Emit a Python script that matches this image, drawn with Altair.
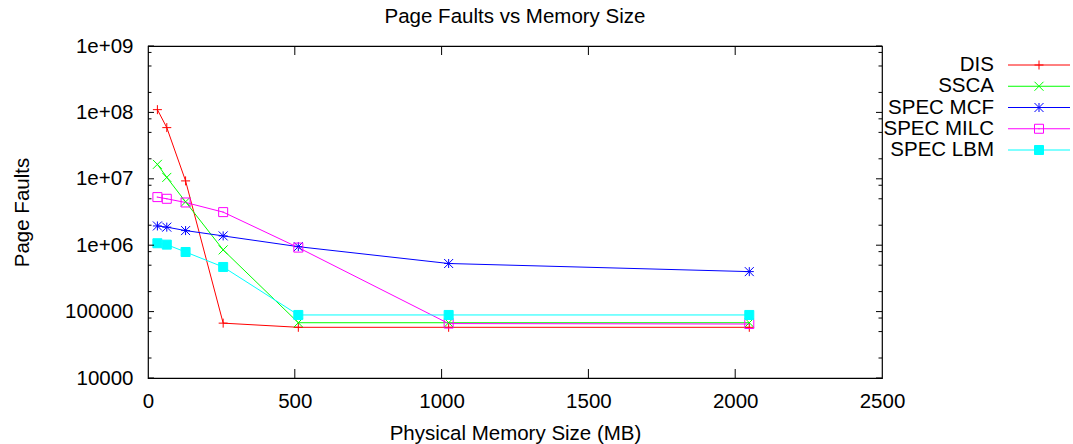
import altair as alt
import pandas as pd

# ---- data ----
mem_mb = [32, 64, 128, 256, 512, 1024, 2048]
series_names = ["DIS", "SSCA", "SPEC MCF", "SPEC MILC", "SPEC LBM"]
dis = [1.1e8, 5.9e7, 9.3e6, 6.7e4, 5.8e4, 5.8e4, 5.8e4]
ssca = [1.65e7, 1.05e7, 4.5e6, 8.5e5, 6.8e4, 6.8e4, 6.8e4]
spec_mcf = [1.95e6, 1.87e6, 1.66e6, 1.38e6, 9.5e5, 5.3e5, 4.0e5]
spec_milc = [5.3e6, 5.0e6, 4.4e6, 3.15e6, 9.2e5, 6.6e4, 6.5e4]
spec_lbm = [1.07e6, 1.02e6, 7.9e5, 4.7e5, 8.9e4, 8.9e4, 8.9e4]

x_ticks = [0, 500, 1000, 1500, 2000, 2500]
y_major = [1e4, 1e5, 1e6, 1e7, 1e8, 1e9]
y_minor = [2e4, 5e4, 8e4, 2e5, 5e5, 8e5, 2e6, 5e6, 8e6,
           2e7, 5e7, 8e7, 2e8, 5e8, 8e8]

colors = ["#ff0000", "#00ff00", "#0000ff", "#ff00ff", "#00ffff"]
PLUS = "M-1,0H1M0,-1V1"
XMARK = "M-1,-1L1,1M-1,1L1,-1"
STAR = "M-1,0H1M0,-1V1M-1,-1L1,1M-1,1L1,-1"
SQUARE_DOT = "M-1,-1H1V1H-1ZM-0.15,0H0.15"
SQUARE = "M-1,-1H1V1H-1Z"

series_values = [dis, ssca, spec_mcf, spec_milc, spec_lbm]
rows = []
for name, vals in zip(series_names, series_values):
    for m, v in zip(mem_mb, vals):
        rows.append({"series": name, "mem": m, "faults": v})
df = pd.DataFrame(rows)

W, H = 734, 332
FONT = "Liberation Sans"
FS = 20.5

xscale = alt.Scale(domain=[0, 2500], nice=False, zero=False)
yscale = alt.Scale(type="log", domain=[1e4, 1e9], nice=False)
color_scale = alt.Scale(domain=series_names, range=colors)
shape_scale = alt.Scale(domain=series_names,
                        range=[PLUS, XMARK, STAR, SQUARE_DOT, SQUARE])
fill_scale = alt.Scale(domain=series_names,
                       range=["transparent"] * 4 + ["#00ffff"])
size_scale = alt.Scale(domain=series_names, range=[81, 81, 90, 64, 64])

x_axis = alt.Axis(values=x_ticks, format="d", title="Physical Memory Size (MB)",
                  ticks=False, domain=False, grid=False, labelPadding=13,
                  titlePadding=12, labelFlush=False)
y_axis = alt.Axis(values=y_major, title="Page Faults", ticks=False,
                  domain=False, grid=False, labelPadding=15, titlePadding=32,
                  labelFlush=False,
                  labelExpr="datum.value >= 1e6 ? '1e+0' + round(log(datum.value)/LN10) : format(datum.value, 'd')")

base = alt.Chart(df)
lines = base.mark_line(strokeWidth=1).encode(
    x=alt.X("mem:Q", scale=xscale, axis=x_axis),
    y=alt.Y("faults:Q", scale=yscale, axis=y_axis),
    color=alt.Color("series:N", scale=color_scale, legend=None),
    order=alt.Order("mem:Q"),
)
points = base.mark_point(filled=True, opacity=1, strokeWidth=1).encode(
    x=alt.X("mem:Q", scale=xscale, axis=x_axis),
    y=alt.Y("faults:Q", scale=yscale, axis=y_axis),
    shape=alt.Shape("series:N", scale=shape_scale, legend=None),
    stroke=alt.Stroke("series:N", scale=color_scale, legend=None),
    fill=alt.Fill("series:N", scale=fill_scale, legend=None),
    size=alt.Size("series:N", scale=size_scale, legend=None),
)

ymaj_df = pd.DataFrame({"v": y_major})
ymin_df = pd.DataFrame({"v": y_minor})
xt_df = pd.DataFrame({"v": x_ticks[1:-1]})

def yticks(d, length):
    left = alt.Chart(d).mark_rule(color="black", strokeWidth=1).encode(
        y=alt.Y("v:Q", scale=yscale, axis=y_axis),
        x=alt.value(0), x2=alt.value(length))
    right = alt.Chart(d).mark_rule(color="black", strokeWidth=1).encode(
        y=alt.Y("v:Q", scale=yscale, axis=y_axis),
        x=alt.value(W - length), x2=alt.value(W))
    return [left, right]

xt_bottom = alt.Chart(xt_df).mark_rule(color="black", strokeWidth=1).encode(
    x=alt.X("v:Q", scale=xscale, axis=x_axis), y=alt.value(H - 9), y2=alt.value(H))
xt_top = alt.Chart(xt_df).mark_rule(color="black", strokeWidth=1).encode(
    x=alt.X("v:Q", scale=xscale, axis=x_axis), y=alt.value(0), y2=alt.value(9))

main = alt.layer(lines, points, *yticks(ymaj_df, 6), *yticks(ymin_df, 3.5),
                 xt_bottom, xt_top)

# ---- key (gnuplot style: label, then line sample with marker) ----
key_df = pd.DataFrame({"series": series_names})
key_y = alt.Y("series:N", axis=None,
              scale=alt.Scale(type="point", domain=series_names,
                              range=[19, 104], padding=0))
key_text = alt.Chart(key_df).mark_text(
    align="right", baseline="middle", font=FONT, fontSize=FS, color="black"
).encode(y=key_y, x=alt.value(846), text="series:N")
key_line = alt.Chart(key_df).mark_rule(strokeWidth=1).encode(
    y=key_y, x=alt.value(860), x2=alt.value(922),
    color=alt.Color("series:N", scale=color_scale, legend=None))
key_pts = alt.Chart(key_df).mark_point(filled=True, opacity=1, strokeWidth=1).encode(
    y=key_y, x=alt.value(891),
    shape=alt.Shape("series:N", scale=shape_scale, legend=None),
    stroke=alt.Stroke("series:N", scale=color_scale, legend=None),
    fill=alt.Fill("series:N", scale=fill_scale, legend=None),
    size=alt.Size("series:N", scale=size_scale, legend=None),
)
key = alt.layer(key_text, key_line, key_pts)

chart = alt.layer(main, key).resolve_scale(y="independent").properties(
    width=W, height=H,
    background="white",
    title=alt.TitleParams("Page Faults vs Memory Size", anchor="middle",
                          font=FONT, fontSize=FS, fontWeight="normal",
                          color="black", offset=9),
    autosize=alt.AutoSizeParams(type="none"),
    padding={"left": 148, "top": 46, "right": 191, "bottom": 66},
).configure_view(stroke="black", strokeWidth=1.2).configure_axis(
    labelFont=FONT, labelFontSize=FS, labelColor="black",
    titleFont=FONT, titleFontSize=FS, titleFontWeight="normal", titleColor="black",
)

chart.save("out.html", embed_options={"renderer": "svg", "actions": False})
